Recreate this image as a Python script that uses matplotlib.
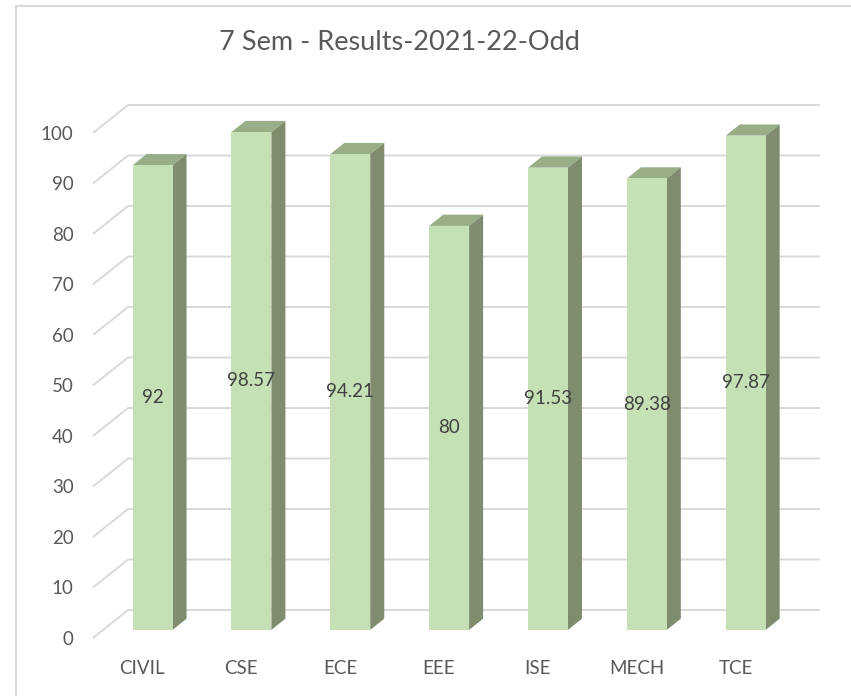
import matplotlib
matplotlib.use("Agg")
import matplotlib.pyplot as plt
from matplotlib.patches import Polygon
from matplotlib.lines import Line2D

plt.rcParams['font.family'] = ['Lato', 'DejaVu Sans']

# data
branches = ["CIVIL", "CSE", "ECE", "EEE", "ISE", "MECH", "TCE"]
results = [92, 98.57, 94.21, 80, 91.53, 89.38, 97.87]
yticks = list(range(0, 101, 10))

# fake 3d: full depth offset in data units
DX = 0.354
DY = 5.54
F0 = 0.29     # bar front depth
F1 = 0.69     # bar back depth
W = 0.404     # bar width

front_col = "#C5E0B4"
top_col = "#97AE87"
side_col = "#7F8D6E"
grid_col = "#D9D9D9"
text_col = "#595959"

fig = plt.figure(figsize=(8.51, 6.96), dpi=100)
ax = fig.add_axes([93 / 851, (696 - 638) / 696, (820 - 93) / 851, (638 - 105) / 696])
ax.set_xlim(-0.5, 6.5 + DX)
ax.set_ylim(0, 100 + DY)
for s in ax.spines.values():
    s.set_visible(False)

# walls gridlines
for v in yticks:
    ax.plot([-0.5, -0.5 + DX, 6.5 + DX], [v, v + DY, v + DY],
            color=grid_col, lw=1.4, zorder=1, clip_on=False, solid_capstyle="butt")

for i, v in enumerate(results):
    xl = i - W / 2
    xr = i + W / 2
    ax.bar(i + F0 * DX, v, width=W, bottom=F0 * DY, color=front_col, zorder=3)
    top = [(xl + F0 * DX, v + F0 * DY), (xr + F0 * DX, v + F0 * DY),
           (xr + F1 * DX, v + F1 * DY), (xl + F1 * DX, v + F1 * DY)]
    side = [(xr + F0 * DX, F0 * DY), (xr + F1 * DX, F1 * DY),
            (xr + F1 * DX, v + F1 * DY), (xr + F0 * DX, v + F0 * DY)]
    ax.add_patch(Polygon(top, closed=True, fc=top_col, ec="none", zorder=2))
    ax.add_patch(Polygon(side, closed=True, fc=side_col, ec="none", zorder=2))
    lbl = ("%.2f" % v).rstrip("0").rstrip(".")
    ax.text(i + F0 * DX, v / 2 + F0 * DY, lbl, ha="center", va="center",
            fontsize=13.5, color="#404040", zorder=4)

ax.set_xticks(range(len(branches)))
ax.set_xticklabels(branches)
ax.set_yticks(yticks)
ax.tick_params(axis="both", length=0, labelsize=13.5, labelcolor=text_col)
ax.tick_params(axis="y", pad=14)
ax.tick_params(axis="x", pad=16)

fig.text(399 / 851, 1 - 43 / 696, "7 Sem - Results-2021-22-Odd", ha="center", va="center",
         fontsize=19.5, color=text_col)

# chart border (left and top visible)
fig.add_artist(Line2D([16 / 851, 16 / 851], [0, 1 - 6 / 696], color="#D9D9D9", lw=1.5))
fig.add_artist(Line2D([16 / 851, 1], [1 - 6 / 696, 1 - 6 / 696], color="#D9D9D9", lw=1.5))

fig.savefig("out.png", dpi=100)
